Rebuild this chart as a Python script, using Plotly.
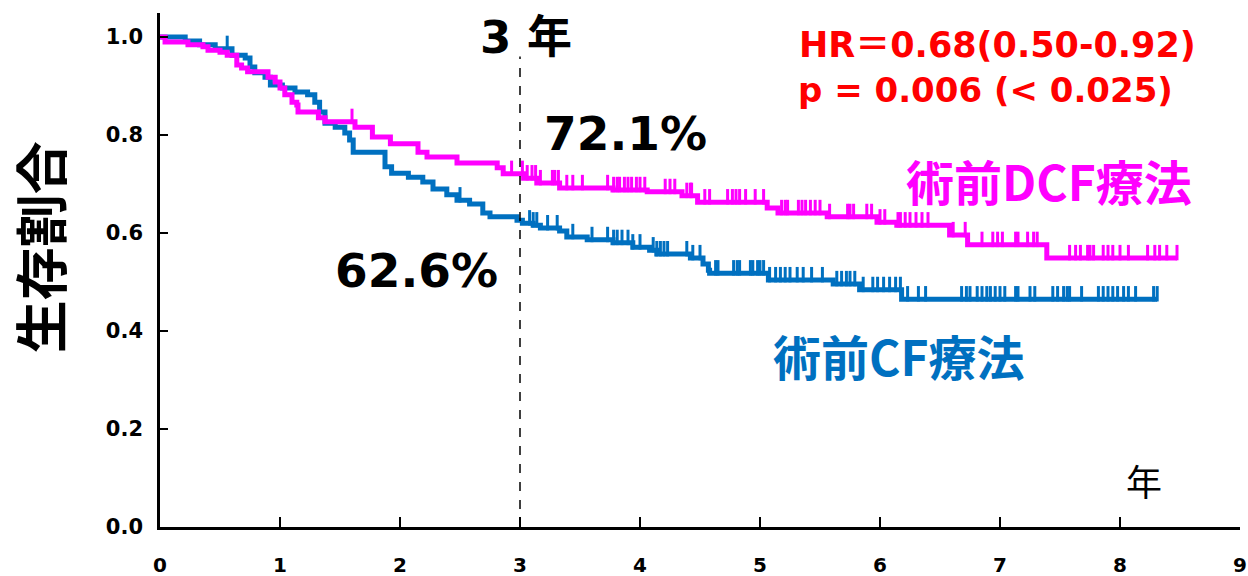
import numpy as np
import plotly.graph_objects as go

# ---- data (years, survival) ----
cf_times = [0.21, 0.33, 0.46, 0.60, 0.71, 0.75, 0.79, 0.875, 0.92, 1.02, 1.125, 1.23, 1.29, 1.33,
            1.375, 1.46, 1.54, 1.58, 1.61, 1.875, 1.93, 2.07, 2.19, 2.275, 2.39, 2.475, 2.58, 2.69,
            2.75, 2.975, 3.02, 3.11, 3.17, 3.33, 3.39, 3.56, 3.775, 3.94, 4.08, 4.14, 4.42, 4.525,
            4.57, 4.58, 5.07, 5.61, 5.83, 6.18]
cf_surv = [0.992, 0.984, 0.976, 0.963, 0.957, 0.939, 0.927, 0.918, 0.902, 0.896, 0.888, 0.882, 0.867,
           0.847, 0.824, 0.816, 0.804, 0.790, 0.765, 0.735, 0.722, 0.714, 0.704, 0.690, 0.678, 0.667,
           0.659, 0.641, 0.633, 0.626, 0.620, 0.616, 0.610, 0.604, 0.592, 0.586, 0.580, 0.571, 0.565,
           0.557, 0.549, 0.537, 0.524, 0.518, 0.504, 0.496, 0.484, 0.465]
cf_end = 8.31
cf_censor = [0.56, 2.50, 3.08, 3.11, 3.14, 3.23, 3.31, 3.44, 3.60, 3.73, 3.78, 3.81, 3.85, 3.90, 3.94,
             4.00, 4.11, 4.14, 4.17, 4.20, 4.23, 4.39, 4.44, 4.50, 4.63, 4.65, 4.78, 4.81, 4.83, 4.92,
             4.94, 4.98, 5.00, 5.03, 5.08, 5.13, 5.17, 5.21, 5.25, 5.31, 5.36, 5.43, 5.52, 5.64, 5.68,
             5.72, 5.75, 5.79, 5.86, 5.94, 5.98, 6.03, 6.08, 6.13, 6.17, 6.23, 6.32, 6.38, 6.68, 6.72,
             6.75, 6.81, 6.85, 6.89, 6.92, 6.96, 7.00, 7.04, 7.13, 7.15, 7.25, 7.29, 7.44, 7.48, 7.53,
             7.56, 7.58, 7.68, 7.82, 7.86, 7.90, 7.94, 7.98, 8.03, 8.07, 8.13, 8.28, 8.31]

dcf_times = [0.042, 0.233, 0.358, 0.40, 0.50, 0.56, 0.64, 0.68, 0.73, 0.90, 0.96, 1.00, 1.04, 1.10,
             1.14, 1.15, 1.32, 1.375, 1.625, 1.77, 1.92, 2.15, 2.225, 2.475, 2.81, 2.86, 3.03, 3.14,
             3.33, 3.775, 4.06, 4.35, 4.48, 5.06, 5.15, 5.56, 5.975, 6.14, 6.58, 6.73, 7.39]
dcf_surv = [0.990, 0.984, 0.980, 0.973, 0.969, 0.963, 0.943, 0.937, 0.929, 0.918, 0.908, 0.896, 0.882,
            0.867, 0.861, 0.847, 0.835, 0.827, 0.816, 0.796, 0.782, 0.765, 0.755, 0.743, 0.733, 0.721,
            0.712, 0.702, 0.692, 0.688, 0.684, 0.676, 0.663, 0.651, 0.641, 0.633, 0.622, 0.616, 0.596,
            0.576, 0.549]
dcf_end = 8.475
dcf_censor = [1.60, 2.93, 3.02, 3.06, 3.10, 3.13, 3.17, 3.27, 3.29, 3.32, 3.39, 3.44, 3.52, 3.73, 3.78,
              3.81, 3.83, 3.87, 3.90, 3.93, 3.97, 4.00, 4.04, 4.21, 4.25, 4.29, 4.39, 4.42, 4.43, 4.54,
              4.58, 4.73, 4.77, 4.80, 4.83, 4.88, 4.96, 5.03, 5.18, 5.21, 5.23, 5.32, 5.35, 5.38, 5.42,
              5.46, 5.50, 5.58, 5.73, 5.75, 5.78, 5.89, 5.93, 6.00, 6.04, 6.15, 6.17, 6.21, 6.25, 6.30,
              6.35, 6.40, 6.61, 6.71, 6.85, 6.94, 6.98, 7.02, 7.13, 7.15, 7.23, 7.28, 7.31, 7.58, 7.63,
              7.67, 7.73, 7.75, 7.78, 7.86, 7.90, 7.94, 8.00, 8.07, 8.23, 8.29, 8.33, 8.39, 8.475]

x_ticks = list(range(0, 10))
y_ticks = [0.0, 0.2, 0.4, 0.6, 0.8, 1.0]
y_tick_text = ["0.0", "0.2", "0.4", "0.6", "0.8", "1.0"]

BLUE = "#0070C0"
MAGENTA = "#FF00FF"


def step_at(times, surv, t):
    idx = np.searchsorted(np.array(times), np.array(t), side="right") - 1
    s = np.array([1.0] + list(surv))
    return s[idx + 1]


def km_xy(times, surv, end):
    return [0.0] + list(times) + [end], [1.0] + list(surv) + [surv[-1]]


fig = go.Figure()

for times, surv, end, cens, col in [
    (cf_times, cf_surv, cf_end, cf_censor, BLUE),
    (dcf_times, dcf_surv, dcf_end, dcf_censor, MAGENTA),
]:
    x, y = km_xy(times, surv, end)
    fig.add_trace(go.Scatter(x=x, y=y, mode="lines", line=dict(color=col, width=5, shape="hv"),
                             hoverinfo="skip", showlegend=False, cliponaxis=False))
    cy = step_at(times, surv, cens) + 0.011
    fig.add_trace(go.Scatter(x=cens, y=cy, mode="markers",
                             marker=dict(symbol="line-ns", size=11, line=dict(color=col, width=3)),
                             hoverinfo="skip", showlegend=False, cliponaxis=False))

# 3-year reference line
fig.add_shape(type="line", x0=3, x1=3, y0=0, y1=0.96, xref="x", yref="y",
              line=dict(color="black", width=1.5, dash="dash"))

LAT = "DejaVu Sans, Noto Sans CJK JP"
JP = "Noto Sans CJK JP"
ann = [
    dict(x=3.05, y=0.998, text="<b>3 年</b>", font=dict(family=LAT, size=45, color="black")),
    dict(x=3.875, y=0.804, text="<b>72.1%</b>", font=dict(family=LAT, size=47, color="black")),
    dict(x=2.14, y=0.524, text="<b>62.6%</b>", font=dict(family=LAT, size=47, color="black")),
    dict(x=6.98, y=0.984, text="<b>HR＝0.68(0.50-0.92)</b>", font=dict(family=LAT, size=35, color="#FF0000")),
    dict(x=6.875, y=0.892, text="<b>p = 0.006 (< 0.025)</b>", font=dict(family=LAT, size=34, color="#FF0000")),
    dict(x=7.41, y=0.708, text="<b>術前DCF療法</b>", font=dict(family=JP, size=48, color=MAGENTA)),
    dict(x=6.16, y=0.351, text="<b>術前CF療法</b>", font=dict(family=JP, size=48, color=BLUE)),
    dict(x=8.2, y=0.096, text="年", font=dict(family=JP, size=36, color="black")),
]
for a in ann:
    fig.add_annotation(xref="x", yref="y", showarrow=False, xanchor="center", yanchor="middle", **a)

fig.add_annotation(xref="paper", yref="y", x=0, y=0.571, xshift=-121, showarrow=False,
                   text="<b>生存割合</b>", textangle=-90, font=dict(family=JP, size=53, color="black"),
                   xanchor="center", yanchor="middle")

fig.update_layout(
    width=1248, height=576,
    margin=dict(l=160, r=8, t=13, b=49),
    plot_bgcolor="white", paper_bgcolor="white",
    xaxis=dict(range=[0, 9], tickvals=x_ticks, ticks="inside", ticklen=10, tickwidth=2,
               tickcolor="black", showline=True, linecolor="black", linewidth=3, showgrid=False,
               zeroline=False, ticklabelstandoff=18, automargin=False,
               tickfont=dict(family="DejaVu Sans", size=20, color="black", weight="bold")),
    yaxis=dict(range=[0, 1.049], tickvals=y_ticks, ticktext=y_tick_text, ticks="inside", ticklen=8,
               tickwidth=2, tickcolor="black", showline=True, linecolor="black", linewidth=2.5,
               showgrid=False, zeroline=False, ticklabelstandoff=10, automargin=False,
               tickfont=dict(family="DejaVu Sans", size=21, color="black", weight="bold")),
)

fig.write_html("out.html", config={"displayModeBar": False},
               post_script="document.body.style.margin='0';document.body.style.overflow='hidden';")
